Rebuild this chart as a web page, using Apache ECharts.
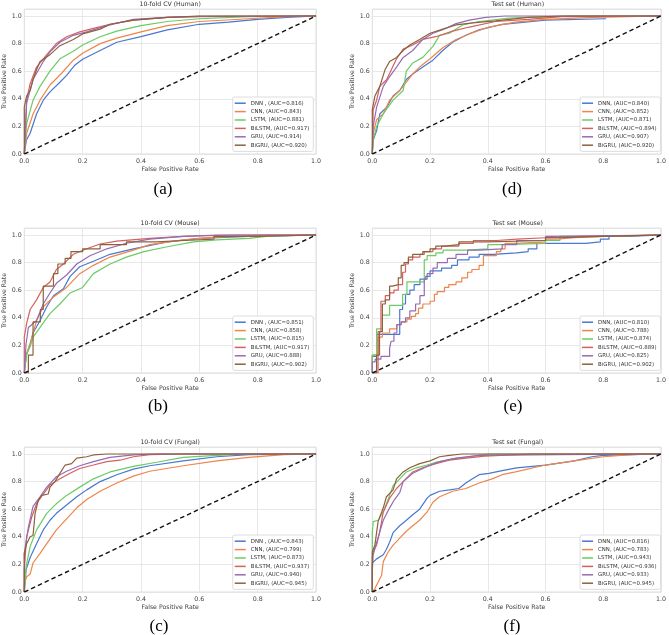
<!DOCTYPE html>
<html><head><meta charset="utf-8">
<script src="https://cdn.jsdelivr.net/npm/echarts/dist/echarts.min.js"></script>
<style>html,body{margin:0;padding:0;background:#fff}#c{width:669px;height:635px}</style>
</head><body><div id="c"></div>
<script>
// ---------- DATA ----------
const panelTitles = ['10-fold CV (Human)', 'Test set (Human)', '10-fold CV (Mouse)', 'Test set (Mouse)', '10-fold CV (Fungal)', 'Test set (Fungal)'];
const panelTags = ['(a)', '(d)', '(b)', '(e)', '(c)', '(f)'];
const xTicks = [0, 0.2, 0.4, 0.6, 0.8, 1.0];
const diagonal = [[0, 0], [1, 1]];

const labelsA = ['DNN , (AUC=0.816)', 'CNN, (AUC=0.843)', 'LSTM, (AUC=0.881)', 'BiLSTM, (AUC=0.917)', 'GRU, (AUC=0.914)', 'BiGRU, (AUC=0.920)'];
const labelsD = ['DNN, (AUC=0.840)', 'CNN, (AUC=0.852)', 'LSTM, (AUC=0.871)', 'BiLSTM, (AUC=0.894)', 'GRU, (AUC=0.907)', 'BiGRU, (AUC=0.920)'];
const labelsB = ['DNN , (AUC=0.851)', 'CNN, (AUC=0.858)', 'LSTM, (AUC=0.815)', 'BiLSTM, (AUC=0.917)', 'GRU, (AUC=0.888)', 'BiGRU, (AUC=0.902)'];
const labelsE = ['DNN, (AUC=0.810)', 'CNN, (AUC=0.788)', 'LSTM, (AUC=0.874)', 'BiLSTM, (AUC=0.889)', 'GRU, (AUC=0.825)', 'BiGRU, (AUC=0.902)'];
const labelsC = ['DNN , (AUC=0.843)', 'CNN, (AUC=0.799)', 'LSTM, (AUC=0.873)', 'BiLSTM, (AUC=0.937)', 'GRU, (AUC=0.940)', 'BiGRU, (AUC=0.945)'];
const labelsF = ['DNN, (AUC=0.816)', 'CNN, (AUC=0.783)', 'LSTM, (AUC=0.943)', 'BiLSTM, (AUC=0.936)', 'GRU, (AUC=0.933)', 'BiGRU, (AUC=0.945)'];

// (a) 10-fold CV Human  [fpr, tpr]
const hcvDNN = [[0,0],[0.007,0.1],[0.02,0.15],[0.042,0.29],[0.065,0.39],[0.088,0.45],[0.122,0.52],[0.145,0.57],[0.174,0.645],[0.2,0.686],[0.26,0.75],[0.317,0.81],[0.4,0.85],[0.49,0.9],[0.6,0.94],[0.7,0.955],[0.8,0.975],[0.9,0.99],[1,1]];
const hcvCNN = [[0,0],[0.008,0.15],[0.03,0.29],[0.054,0.39],[0.088,0.5],[0.128,0.585],[0.168,0.68],[0.2,0.73],[0.26,0.8],[0.317,0.84],[0.4,0.885],[0.49,0.93],[0.6,0.96],[0.77,0.98],[0.9,0.995],[1,1]];
const hcvLSTM = [[0,0],[0.008,0.22],[0.03,0.39],[0.054,0.49],[0.088,0.6],[0.122,0.69],[0.168,0.745],[0.2,0.79],[0.26,0.85],[0.317,0.89],[0.4,0.93],[0.49,0.96],[0.6,0.98],[0.77,0.995],[1,1]];
const hcvBiLSTM = [[0,0],[0.008,0.39],[0.02,0.51],[0.042,0.63],[0.077,0.72],[0.11,0.8],[0.145,0.85],[0.19,0.885],[0.237,0.91],[0.294,0.94],[0.374,0.97],[0.49,0.99],[0.6,0.995],[1,1]];
const hcvGRU = [[0,0],[0.008,0.37],[0.03,0.54],[0.065,0.67],[0.088,0.74],[0.122,0.81],[0.168,0.86],[0.214,0.885],[0.283,0.93],[0.374,0.975],[0.49,0.99],[0.6,0.997],[1,1]];
const hcvBiGRU = [[0,0],[0,0.34],[0.008,0.42],[0.02,0.46],[0.03,0.54],[0.042,0.61],[0.054,0.67],[0.088,0.72],[0.122,0.785],[0.168,0.83],[0.2,0.87],[0.26,0.905],[0.294,0.94],[0.374,0.97],[0.49,0.99],[0.6,1],[1,1]];

// (d) Test set Human
const htDNN = [[0,0],[0.003,0.1],[0.015,0.17],[0.026,0.29],[0.05,0.34],[0.072,0.42],[0.095,0.46],[0.118,0.54],[0.14,0.58],[0.175,0.63],[0.21,0.68],[0.244,0.75],[0.278,0.81],[0.324,0.86],[0.37,0.9],[0.45,0.94],[0.6,0.97],[0.81,0.98]];
const htCNN = [[0,0],[0.003,0.15],[0.015,0.25],[0.038,0.29],[0.06,0.39],[0.095,0.46],[0.118,0.52],[0.14,0.58],[0.164,0.63],[0.2,0.69],[0.244,0.77],[0.29,0.83],[0.336,0.87],[0.404,0.92],[0.496,0.955],[0.6,0.975],[0.77,0.99],[1,1]];
const htLSTM = [[0,0],[0.003,0.1],[0.015,0.2],[0.038,0.29],[0.072,0.39],[0.107,0.46],[0.118,0.6],[0.14,0.66],[0.175,0.7],[0.21,0.78],[0.233,0.86],[0.267,0.875],[0.313,0.935],[0.37,0.96],[0.473,0.985],[0.54,0.99],[0.7,1],[1,1]];
const htBiLSTM = [[0,0],[0.003,0.32],[0.015,0.39],[0.026,0.49],[0.05,0.54],[0.084,0.69],[0.107,0.76],[0.14,0.79],[0.175,0.83],[0.22,0.85],[0.278,0.89],[0.336,0.92],[0.427,0.96],[0.54,0.975],[0.656,0.995],[1,1]];
const htGRU = [[0,0],[0.003,0.2],[0.015,0.34],[0.038,0.49],[0.06,0.56],[0.084,0.63],[0.107,0.7],[0.14,0.75],[0.175,0.83],[0.21,0.875],[0.244,0.9],[0.29,0.945],[0.336,0.97],[0.393,0.99],[0.46,1],[1,1]];
const htBiGRU = [[0,0],[0,0.32],[0.009,0.42],[0.026,0.49],[0.044,0.61],[0.06,0.67],[0.084,0.7],[0.107,0.75],[0.13,0.79],[0.164,0.83],[0.2,0.875],[0.244,0.905],[0.29,0.935],[0.347,0.95],[0.427,0.965],[0.54,0.99],[0.656,1],[1,1]];

// (b) 10-fold CV Mouse
const mcvDNN = [[0,0],[0.006,0.12],[0.02,0.21],[0.03,0.29],[0.054,0.38],[0.077,0.48],[0.1,0.56],[0.134,0.61],[0.157,0.7],[0.19,0.77],[0.237,0.81],[0.294,0.86],[0.374,0.9],[0.49,0.95],[0.6,0.975],[0.77,0.99],[1,1]];
const mcvCNN = [[0,0],[0.008,0.14],[0.02,0.21],[0.042,0.38],[0.065,0.48],[0.1,0.55],[0.145,0.62],[0.19,0.72],[0.237,0.78],[0.294,0.84],[0.374,0.89],[0.43,0.93],[0.545,0.965],[0.66,0.985],[0.83,1],[1,1]];
const mcvLSTM = [[0,0],[0.008,0.14],[0.02,0.19],[0.03,0.26],[0.054,0.33],[0.088,0.43],[0.122,0.5],[0.157,0.58],[0.2,0.62],[0.237,0.72],[0.294,0.79],[0.35,0.84],[0.41,0.88],[0.49,0.915],[0.58,0.95],[0.66,0.965],[0.77,0.975],[0.83,0.99],[1,1]];
const mcvBiLSTM = [[0,0],[0,0.26],[0.008,0.36],[0.02,0.46],[0.042,0.53],[0.065,0.62],[0.088,0.66],[0.11,0.75],[0.134,0.79],[0.168,0.86],[0.214,0.9],[0.26,0.935],[0.317,0.955],[0.43,0.975],[0.545,0.99],[0.72,1],[1,1]];
const mcvGRU = [[0,0],[0.006,0.21],[0.014,0.33],[0.042,0.38],[0.065,0.5],[0.088,0.58],[0.11,0.65],[0.145,0.71],[0.18,0.79],[0.225,0.85],[0.283,0.9],[0.35,0.94],[0.43,0.97],[0.545,0.99],[0.66,1],[1,1]];
const mcvBiGRU = [[0,0],[0.014,0],[0.03,0.13],[0.055,0.37],[0.065,0.46],[0.1,0.63],[0.115,0.72],[0.14,0.79],[0.16,0.83],[0.2,0.88],[0.26,0.9],[0.35,0.93],[0.45,0.95],[0.55,0.96],[0.65,0.97],[0.8,0.99],[1,1]];

// (e) Test set Mouse (staircase: each point = right end of a level)
const mtDNN = [[0,0],[0.015,0.12],[0.095,0.28],[0.105,0.46],[0.115,0.5],[0.13,0.57],[0.145,0.6],[0.165,0.64],[0.185,0.68],[0.2,0.7],[0.24,0.74],[0.275,0.76],[0.295,0.78],[0.335,0.82],[0.37,0.84],[0.42,0.86],[0.5,0.87],[0.54,0.88],[0.57,0.9],[0.74,0.94],[0.79,0.95],[0.82,0.97],[0.89,0.99],[1,1]];
const mtCNN = [[0,0],[0.02,0.13],[0.035,0.26],[0.06,0.29],[0.085,0.32],[0.1,0.35],[0.12,0.37],[0.135,0.39],[0.15,0.41],[0.16,0.43],[0.175,0.47],[0.2,0.5],[0.215,0.52],[0.225,0.57],[0.25,0.59],[0.265,0.62],[0.29,0.64],[0.31,0.66],[0.33,0.69],[0.345,0.73],[0.37,0.75],[0.385,0.78],[0.43,0.85],[0.445,0.88],[0.46,0.9],[0.5,0.94],[0.6,0.95],[0.64,0.97],[0.7,0.98],[0.8,0.99],[1,1]];
const mtLSTM = [[0,0],[0.015,0.13],[0.035,0.32],[0.06,0.42],[0.105,0.49],[0.12,0.57],[0.18,0.66],[0.19,0.82],[0.22,0.85],[0.245,0.87],[0.33,0.89],[0.4,0.9],[0.45,0.93],[0.6,0.94],[0.65,0.96],[0.8,0.99],[1,1]];
const mtBiLSTM = [[0,0],[0.02,0],[0.03,0.3],[0.045,0.52],[0.06,0.56],[0.075,0.58],[0.09,0.6],[0.105,0.64],[0.115,0.73],[0.125,0.79],[0.14,0.82],[0.165,0.84],[0.18,0.86],[0.21,0.88],[0.24,0.9],[0.3,0.92],[0.35,0.94],[0.43,0.96],[0.5,0.97],[0.6,0.98],[0.73,0.99],[1,1]];
const mtGRU = [[0,0],[0.01,0.08],[0.03,0.1],[0.06,0.12],[0.065,0.18],[0.075,0.23],[0.085,0.29],[0.1,0.35],[0.115,0.37],[0.13,0.4],[0.15,0.45],[0.165,0.5],[0.18,0.56],[0.19,0.68],[0.21,0.72],[0.225,0.76],[0.26,0.8],[0.29,0.83],[0.33,0.86],[0.37,0.89],[0.45,0.9],[0.5,0.93],[0.6,0.96],[0.62,0.99],[1,1]];
const mtBiGRU = [[0,0],[0.015,0],[0.025,0.13],[0.035,0.3],[0.045,0.5],[0.06,0.53],[0.07,0.63],[0.09,0.64],[0.1,0.69],[0.11,0.78],[0.125,0.8],[0.14,0.84],[0.175,0.86],[0.2,0.88],[0.22,0.9],[0.25,0.92],[0.3,0.93],[0.4,0.95],[0.6,0.96],[0.65,0.98],[0.8,0.99],[1,1]];

// (c) 10-fold CV Fungal
const fcvDNN = [[0,0],[0.006,0.16],[0.02,0.25],[0.042,0.35],[0.065,0.45],[0.088,0.52],[0.11,0.57],[0.145,0.63],[0.18,0.69],[0.214,0.74],[0.26,0.8],[0.317,0.85],[0.374,0.89],[0.43,0.915],[0.545,0.95],[0.66,0.98],[0.77,0.995],[1,1]];
const fcvCNN = [[0,0],[0,0.06],[0.008,0.11],[0.02,0.13],[0.03,0.21],[0.054,0.28],[0.077,0.35],[0.11,0.45],[0.145,0.53],[0.18,0.61],[0.214,0.67],[0.26,0.73],[0.317,0.79],[0.374,0.84],[0.43,0.875],[0.545,0.915],[0.66,0.95],[0.77,0.975],[0.89,0.995],[1,1]];
const fcvLSTM = [[0,0],[0.006,0.18],[0.02,0.33],[0.042,0.45],[0.077,0.57],[0.11,0.64],[0.145,0.7],[0.19,0.76],[0.237,0.82],[0.294,0.87],[0.374,0.91],[0.454,0.94],[0.545,0.975],[0.66,0.99],[0.77,1],[1,1]];
const fcvBiLSTM = [[0,0],[0,0.16],[0.008,0.4],[0.025,0.54],[0.042,0.64],[0.065,0.71],[0.088,0.775],[0.122,0.82],[0.157,0.86],[0.19,0.895],[0.237,0.92],[0.283,0.945],[0.328,0.955],[0.374,0.98],[0.43,0.995],[0.545,1],[1,1]];
const fcvGRU = [[0,0],[0,0.28],[0.014,0.47],[0.03,0.62],[0.054,0.69],[0.077,0.76],[0.11,0.835],[0.145,0.875],[0.19,0.915],[0.237,0.945],[0.294,0.975],[0.374,0.993],[0.45,1],[1,1]];
const fcvBiGRU = [[0,0],[0,0.28],[0.008,0.35],[0.02,0.4],[0.03,0.41],[0.037,0.57],[0.048,0.665],[0.06,0.7],[0.082,0.71],[0.088,0.76],[0.105,0.8],[0.122,0.86],[0.14,0.92],[0.162,0.93],[0.18,0.97],[0.214,0.98],[0.237,0.993],[0.283,1],[1,1]];

// (f) Test set Fungal
const ftDNN = [[0,0],[0,0.21],[0.015,0.24],[0.038,0.27],[0.049,0.31],[0.06,0.36],[0.072,0.43],[0.095,0.48],[0.118,0.52],[0.14,0.56],[0.164,0.6],[0.19,0.68],[0.2,0.7],[0.233,0.73],[0.267,0.74],[0.3,0.75],[0.324,0.79],[0.347,0.82],[0.37,0.85],[0.404,0.86],[0.45,0.88],[0.5,0.9],[0.6,0.92],[0.7,0.95],[0.76,0.98],[0.8,0.99],[1,1]];
const ftCNN = [[0,0],[0.009,0.025],[0.02,0.07],[0.032,0.12],[0.038,0.22],[0.055,0.29],[0.072,0.34],[0.095,0.39],[0.118,0.44],[0.14,0.48],[0.164,0.52],[0.19,0.58],[0.21,0.65],[0.233,0.69],[0.278,0.73],[0.324,0.75],[0.37,0.79],[0.415,0.82],[0.45,0.85],[0.496,0.87],[0.6,0.92],[0.7,0.95],[0.8,0.98],[0.9,0.995],[0.95,1],[1,1]];
const ftLSTM = [[0,0],[0,0.43],[0.003,0.51],[0.02,0.52],[0.038,0.58],[0.049,0.64],[0.06,0.7],[0.072,0.77],[0.095,0.82],[0.118,0.87],[0.153,0.9],[0.19,0.92],[0.22,0.94],[0.278,0.965],[0.336,0.98],[0.4,1],[1,1]];
const ftBiLSTM = [[0,0],[0,0.25],[0.003,0.29],[0.015,0.34],[0.026,0.44],[0.038,0.58],[0.06,0.68],[0.084,0.75],[0.107,0.8],[0.14,0.87],[0.175,0.9],[0.22,0.93],[0.267,0.955],[0.324,0.97],[0.39,0.985],[0.5,0.995],[0.55,1],[1,1]];
const ftGRU = [[0,0],[0,0.15],[0.003,0.27],[0.015,0.36],[0.038,0.52],[0.06,0.61],[0.077,0.67],[0.095,0.72],[0.107,0.8],[0.14,0.86],[0.19,0.91],[0.233,0.945],[0.29,0.97],[0.37,0.99],[0.64,0.995],[1,1]];
const ftBiGRU = [[0,0],[0,0.29],[0.009,0.34],[0.02,0.51],[0.038,0.61],[0.049,0.69],[0.072,0.74],[0.084,0.82],[0.107,0.87],[0.13,0.9],[0.164,0.93],[0.2,0.95],[0.233,0.98],[0.267,0.99],[0.31,1],[1,1]];

const panelLabels = [labelsA, labelsD, labelsB, labelsE, labelsC, labelsF];
const panelCurves = [
  [hcvDNN, hcvCNN, hcvLSTM, hcvBiLSTM, hcvGRU, hcvBiGRU],
  [htDNN, htCNN, htLSTM, htBiLSTM, htGRU, htBiGRU],
  [mcvDNN, mcvCNN, mcvLSTM, mcvBiLSTM, mcvGRU, mcvBiGRU],
  [mtDNN, mtCNN, mtLSTM, mtBiLSTM, mtGRU, mtBiGRU],
  [fcvDNN, fcvCNN, fcvLSTM, fcvBiLSTM, fcvGRU, fcvBiGRU],
  [ftDNN, ftCNN, ftLSTM, ftBiLSTM, ftGRU, ftBiGRU]
];
// which curves are drawn as staircases
const stepped = [
  [0,0,0,0,0,0],[0,0,0,0,0,0],[0,0,0,0,0,1],[1,1,1,1,1,1],[0,0,0,0,0,0],[0,0,0,0,0,0]
];

// ---------- STYLE / LAYOUT ----------
const colors = ['#4878d0', '#ee854a', '#6acc64', '#d65f5f', '#956cb4', '#8c613c'];
const colLeft = [24.3, 372.3], colWidth = [291.7, 291];
const rowTop = [9.1, 228.1, 447.1], gridH = 144.9;
const tagPos = [[163, 190], [512, 190], [158, 406.7], [513, 406.7], [159, 626.7], [512, 626.7]];
const FONT = 'DejaVu Sans';

const grid = [], xAxis = [], yAxis = [], series = [], legend = [], title = [], graphic = [];
for (let p = 0; p < 6; p++) {
  const r = Math.floor(p / 2), c = p % 2;
  const left = colLeft[c], top = rowTop[r], w = colWidth[c];
  grid.push({ left: left, top: top, width: w, height: gridH, show: true, borderColor: '#d4d4d4', borderWidth: 0.8, backgroundColor: '#fff' });
  xAxis.push({
    gridIndex: p, type: 'value', min: 0, max: 1, interval: 0.2,
    axisLine: { show: false }, axisTick: { show: false },
    splitLine: { show: true, lineStyle: { color: '#e2e2e2', width: 0.8 } },
    axisLabel: { fontSize: 6.3, color: '#444', margin: 4, fontFamily: FONT, formatter: v => v.toFixed(1) },
    name: 'False Positive Rate', nameLocation: 'middle', nameGap: 12.5,
    nameTextStyle: { fontSize: 6.2, color: '#444', fontFamily: FONT }
  });
  yAxis.push({
    gridIndex: p, type: 'value', min: 0, max: 1.05, interval: 0.2,
    axisLine: { show: false }, axisTick: { show: false },
    splitLine: { show: true, lineStyle: { color: '#e2e2e2', width: 0.8 } },
    axisLabel: { fontSize: 6.3, color: '#444', margin: 2.6, fontFamily: FONT,
      formatter: v => (Math.abs(v * 5 - Math.round(v * 5)) < 1e-6 ? v.toFixed(1) : '') },
    name: 'True Positive Rate', nameLocation: 'middle', nameGap: 17,
    nameTextStyle: { fontSize: 6.2, color: '#444', fontFamily: FONT }
  });
  for (let m = 0; m < 6; m++) {
    series.push({
      type: 'line', name: panelLabels[p][m], xAxisIndex: p, yAxisIndex: p,
      data: panelCurves[p][m], showSymbol: false, symbol: 'none',
      step: stepped[p][m] ? 'start' : false,
      lineStyle: { width: 1.2, color: colors[m] }, itemStyle: { color: colors[m] },
      animation: false, silent: true, z: 2 + m
    });
  }
  series.push({
    type: 'line', xAxisIndex: p, yAxisIndex: p, data: diagonal, showSymbol: false, symbol: 'none',
    lineStyle: { width: 1.4, color: '#111', type: [4.5, 3] }, animation: false, silent: true, z: 10
  });
  const plotRight = left + w, plotBottom = top + gridH;
  legend.push({
    orient: 'vertical', right: 669 - (plotRight - 2.7), bottom: 635 - (plotBottom - 2.6),
    padding: [2, 4, 2, 2], itemWidth: 11, itemHeight: 1.5, itemGap: 0, icon: 'rect',
    borderColor: '#cfcfcf', borderWidth: 0.7, borderRadius: 2, backgroundColor: '#fff',
    textStyle: { fontSize: 5.4, color: '#333', lineHeight: 8.4, fontFamily: FONT },
    data: panelLabels[p], selectedMode: false, z: 20
  });
  title.push({
    text: panelTitles[p], left: left + w / 2, top: top - 8.2, textAlign: 'center', padding: 0,
    textStyle: { fontSize: 6.2, fontWeight: 'normal', color: '#333', fontFamily: FONT }
  });
  graphic.push({
    type: 'text', x: tagPos[p][0], y: tagPos[p][1],
    style: { text: panelTags[p], fill: '#000', font: '17px "Liberation Serif"', align: 'center', verticalAlign: 'middle' }
  });
}

const chart = echarts.init(document.getElementById('c'), null, { renderer: 'canvas' });
chart.setOption({
  animation: false, backgroundColor: '#fff',
  textStyle: { fontFamily: FONT },
  title, grid, xAxis, yAxis, series, legend, graphic
});
</script></body></html>
